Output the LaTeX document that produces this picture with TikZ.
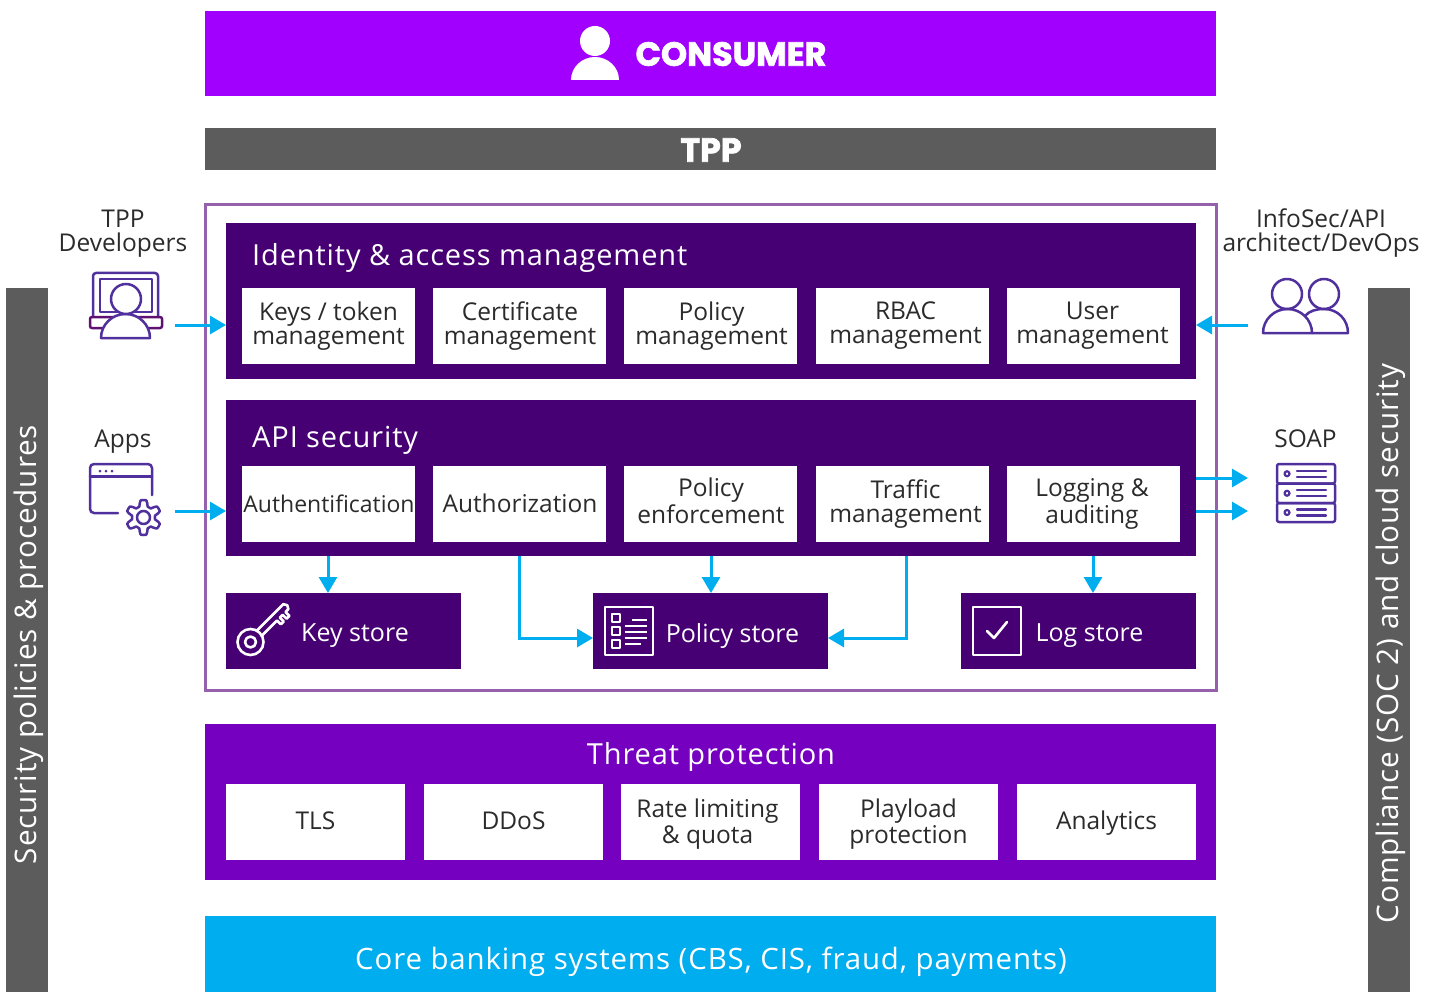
\documentclass[tikz,border=0pt]{standalone}
\usepackage{fontspec}
\setmainfont{Open Sans}
\newfontfamily\blackf[BoldFeatures={FakeBold=2.2}]{Poppins}
\newfontfamily\titlef[LetterSpace=3]{Open Sans}
\usetikzlibrary{arrows.meta,calc}
\definecolor{cviolet}{HTML}{A100FF}
\definecolor{cgrey}{HTML}{5C5C5C}
\definecolor{cdark}{HTML}{460073}
\definecolor{cthreat}{HTML}{7500C0}
\definecolor{ccyan}{HTML}{00ADEF}
\definecolor{cframe}{HTML}{9560AC}
\definecolor{cicon}{HTML}{50309C}
\definecolor{cbase}{HTML}{5F1070}
\definecolor{ctext}{HTML}{2B2B2B}
\tikzset{
 boxbase/.style={inner sep=0pt,outer sep=0pt,draw=none,anchor=north west},
 white box/.style={boxbase,fill=white},
 dark box/.style={boxbase,fill=cdark},
 celltxt/.style={font=\fontsize{24.5}{24}\selectfont,text=ctext,align=center,inner sep=0pt},
 lighttxt/.style={font=\fontsize{25}{24}\selectfont,text=white,align=center,inner sep=0pt},
 titletxt/.style={font=\fontsize{29}{30}\selectfont\titlef,text=white,inner sep=0pt},
 sidetxt/.style={font=\fontsize{29.7}{30}\selectfont\titlef,text=white,rotate=90,inner sep=0pt},
 outtxt/.style={font=\fontsize{24.5}{24}\selectfont,text=ctext,align=center,inner sep=0pt},
 flow/.style={draw=ccyan,line width=3pt,-{Triangle[length=16pt,width=18pt]}},
 icon/.style={draw=cicon,line width=2.5pt,line join=round,line cap=round},
 wicon/.style={draw=white,line width=2.6pt,line join=round,line cap=round},
}
% name x0 y0 x1 y1 boxstyle textstyle dx,dy text
\newcommand\cell[9]{%
 \node[#6,minimum width={(#4-#2)*1pt},minimum height={(#5-#3)*1pt}] (#1) at (#2,#3) {};
 \node[#7] (#1-t) at ($(#1.center)+(#8)$) {\strut #9\strut};
}
\begin{document}
\begin{tikzpicture}[x=1pt,y=-1pt]
\useasboundingbox (0,0) rectangle (1432,992);
% bands
\node[boxbase,fill=cviolet,minimum width=1011pt,minimum height=85pt] (consumer) at (205,11) {};
\node[font=\fontsize{33.3}{33}\selectfont\blackf\bfseries,text=white,inner sep=0pt] (consumer-t) at (731,54) {CONSUMER};
\node[boxbase,fill=cgrey,minimum width=1011pt,minimum height=42pt] (tpp) at (205,128) {};
\node[font=\fontsize{33.3}{33}\selectfont\blackf\bfseries,text=white,inner sep=0pt] (tpp-t) at (711,150) {TPP};
% side bars
\node[boxbase,fill=cgrey,minimum width=42pt,minimum height=704pt] (secbar) at (6,288) {};
\node[boxbase,fill=cgrey,minimum width=42pt,minimum height=704pt] (compbar) at (1368,288) {};
\node[sidetxt] (sec-t) at (29,644.5) {Security policies \& procedures};
\node[sidetxt] (comp-t) at (1391,643.5) {Compliance (SOC 2) and cloud security};
% outer frame
\node[boxbase,draw=cframe,line width=3pt,minimum width=1011pt,minimum height=485pt] (frame) at (205,205) {};
% IAM
\node[dark box,minimum width=970pt,minimum height=156pt] (iam) at (226,223) {};
\node[titletxt,anchor=west] (iam-t) at (252,258) {Identity \& access management};
\cell{keys}{242}{288}{415}{364}{white box}{celltxt}{0,0.5}{Keys / token\\management}
\cell{cert}{433}{288}{606}{364}{white box}{celltxt}{0.5,0.5}{Certificate\\management}
\cell{polm}{624}{288}{797}{364}{white box}{celltxt}{1,0.5}{Policy\\management}
\cell{rbac}{816}{288}{989}{364}{white box}{celltxt}{3,0.5}{RBAC\\management}
\cell{user}{1007}{288}{1180}{364}{white box}{celltxt}{-1,0.5}{User\\management}
% API
\node[dark box,minimum width=970pt,minimum height=156pt] (api) at (226,400) {};
\node[titletxt,anchor=west] (api-t) at (252,440) {API security};
\cell{authn}{242}{466}{415}{542}{white box}{celltxt,font=\fontsize{23}{24}\selectfont}{0.5,3}{Authentification}
\cell{authz}{433}{466}{606}{542}{white box}{celltxt}{0.5,3}{Authorization}
\cell{enf}{624}{466}{797}{542}{white box}{celltxt}{0.5,0.5}{Policy\\enforcement}
\cell{traf}{816}{466}{989}{542}{white box}{celltxt}{3,0.5}{Traffic\\management}
\cell{logg}{1007}{466}{1180}{542}{white box}{celltxt}{-1.5,0.5}{Logging \&\\auditing}
% stores
\cell{keystore}{226}{593}{461}{669}{dark box}{lighttxt}{11.5,5.5}{Key store}
\cell{polstore}{593}{593}{828}{669}{dark box}{lighttxt}{22,5.5}{Policy store}
\cell{logstore}{961}{593}{1196}{669}{dark box}{lighttxt}{11,5.5}{Log store}
% Threat
\node[boxbase,fill=cthreat,minimum width=1011pt,minimum height=156pt] (threat) at (205,724) {};
\node[titletxt] (threat-t) at (711,757) {Threat protection};
\cell{tls}{226}{784}{405}{860}{white box}{celltxt}{0,2}{TLS}
\cell{ddos}{424}{784}{603}{860}{white box}{celltxt}{0,2}{DDoS}
\cell{rate}{621}{784}{800}{860}{white box}{celltxt}{-3,2.5}{Rate limiting\\\& quota}
\cell{play}{819}{784}{998}{860}{white box}{celltxt}{0,2.5}{Playload\\protection}
\cell{analytics}{1017}{784}{1196}{860}{white box}{celltxt}{0,2}{Analytics}
% core
\node[boxbase,fill=ccyan,minimum width=1011pt,minimum height=76pt] (core) at (205,916) {};
\node[titletxt,font=\fontsize{29.4}{30}\selectfont\titlef] (core-t) at (711,962) {Core banking systems (CBS, CIS, fraud, payments)};
% outside labels
\node[outtxt] (devs) at (123,234) {TPP\\Developers};
\node[outtxt] (apps) at (123,442) {Apps};
\node[outtxt] (info) at (1321,233.5) {InfoSec/API\\architect/DevOps};
\node[outtxt] (soap) at (1305.5,439) {SOAP};
% connectors
\coordinate (devout) at (175,325);
\coordinate (appout) at (175,511);
\coordinate (infoout) at (1248,325);
\coordinate (soapa) at (1248,478);
\coordinate (soapb) at (1248,511);
\coordinate (kd) at (328,556);
\coordinate (pd) at (711,556);
\coordinate (ld) at (1093,556);
\coordinate (azd) at (519,556);
\coordinate (trd) at (906,556);
\coordinate (pin) at (711,638);
\draw[flow] (devout) -- (devout -| iam.west);
\draw[flow] (appout) -- (appout -| api.west);
\draw[flow] (infoout) -- (infoout -| iam.east);
\draw[flow] (soapa -| api.east) -- (soapa);
\draw[flow] (soapb -| api.east) -- (soapb);
\draw[flow] (kd) -- (kd |- keystore.north);
\draw[flow] (pd) -- (pd |- polstore.north);
\draw[flow] (ld) -- (ld |- logstore.north);
\draw[flow] (azd) -- (azd |- pin) -- (pin -| polstore.west);
\draw[flow] (trd) -- (trd |- pin) -- (pin -| polstore.east);
% consumer icon
\fill[white] (595,41) circle (15);
\fill[white] (571,80) arc[start angle=180,end angle=0,x radius=24,y radius=-23] -- cycle;
% laptop icon
\draw[icon,rounded corners=3pt] (93,317) -- (93,273) -- (158,273) -- (158,317);
\draw[icon] (100,279) rectangle (152,312);
\draw[draw=cbase,line width=2.5pt,fill=white,rounded corners=2pt] (90,317) rectangle (162,328);
\draw[icon,fill=white] (101,338) arc[start angle=180,end angle=0,x radius=24.5,y radius=-24] -- cycle;
\draw[icon,fill=white] (126,299) circle (15);
% app icon
\draw[icon,rounded corners=4pt] (118,513) -- (90,513) -- (90,464) -- (152,464) -- (152,495);
\draw[icon] (90,476.5) -- (152,476.5);
\fill[cicon] (100,471) circle (1.5) (106,471) circle (1.5) (112,471) circle (1.5);
\draw[icon] plot[samples=145,domain=0:360] ({143.5+(14.5+3*max(-1,min(1,-1.7*cos(6*\x))))*cos(\x)},{517.5+(14.5+3*max(-1,min(1,-1.7*cos(6*\x))))*sin(\x)}) -- cycle;
\draw[icon] (143.5,517.5) circle (6.5);
% people icon
\draw[icon] (1305,316) .. controls (1309,311) and (1316,309) .. (1324,309) .. controls (1338,309) and (1348,320) .. (1348,333) -- (1312,333);
\draw[icon,fill=white] (1263,333) arc[start angle=180,end angle=0,x radius=24.5,y radius=-24] -- cycle;
\draw[icon] (1287,294) circle (15);
\draw[icon] (1324,294) circle (15);
% soap icon
\foreach \ya/\yb in {464/483.5,483.5/503,503/522}{
 \draw[icon,rounded corners=2pt] (1277,\ya) rectangle (1335,\yb);
 \draw[icon,line width=2.2pt] (1287,{(\ya+\yb)/2}) circle (2.5);
 \draw[icon,line width=2.3pt] (1297,{(\ya+\yb)/2-3}) -- (1326,{(\ya+\yb)/2-3})
   (1297,{(\ya+\yb)/2+3}) -- (1326,{(\ya+\yb)/2+3});
}
% key icon
\draw[wicon] (250.5,642) circle (13) (250.5,642) circle (5.5);
\begin{scope}[shift={(250.5,642)},rotate=45]
\draw[wicon] (12,-3.5) -- (50,-3.5) -- (52,0) -- (50,3.5) -- (46,3.5) -- (46,9) -- (42,9) -- (42,3.5) -- (38,3.5) -- (38,9) -- (34,9) -- (34,3.5) -- (12,3.5);
\end{scope}
% policy icon
\draw[wicon] (605,607) rectangle (653,655);
\draw[wicon] (612,614) rectangle (620,622) (612,627) rectangle (620,635) (612,640) rectangle (620,648);
\draw[wicon,line cap=butt] (632,620) -- (647,620) (625,626) -- (647,626) (625,632) -- (647,632) (625,638) -- (647,638) (625,644) -- (641,644);
% log icon
\draw[wicon] (973,607) rectangle (1021,655);
\draw[wicon] (987,631) -- (994,638) -- (1007,622);
\end{tikzpicture}
\end{document}
